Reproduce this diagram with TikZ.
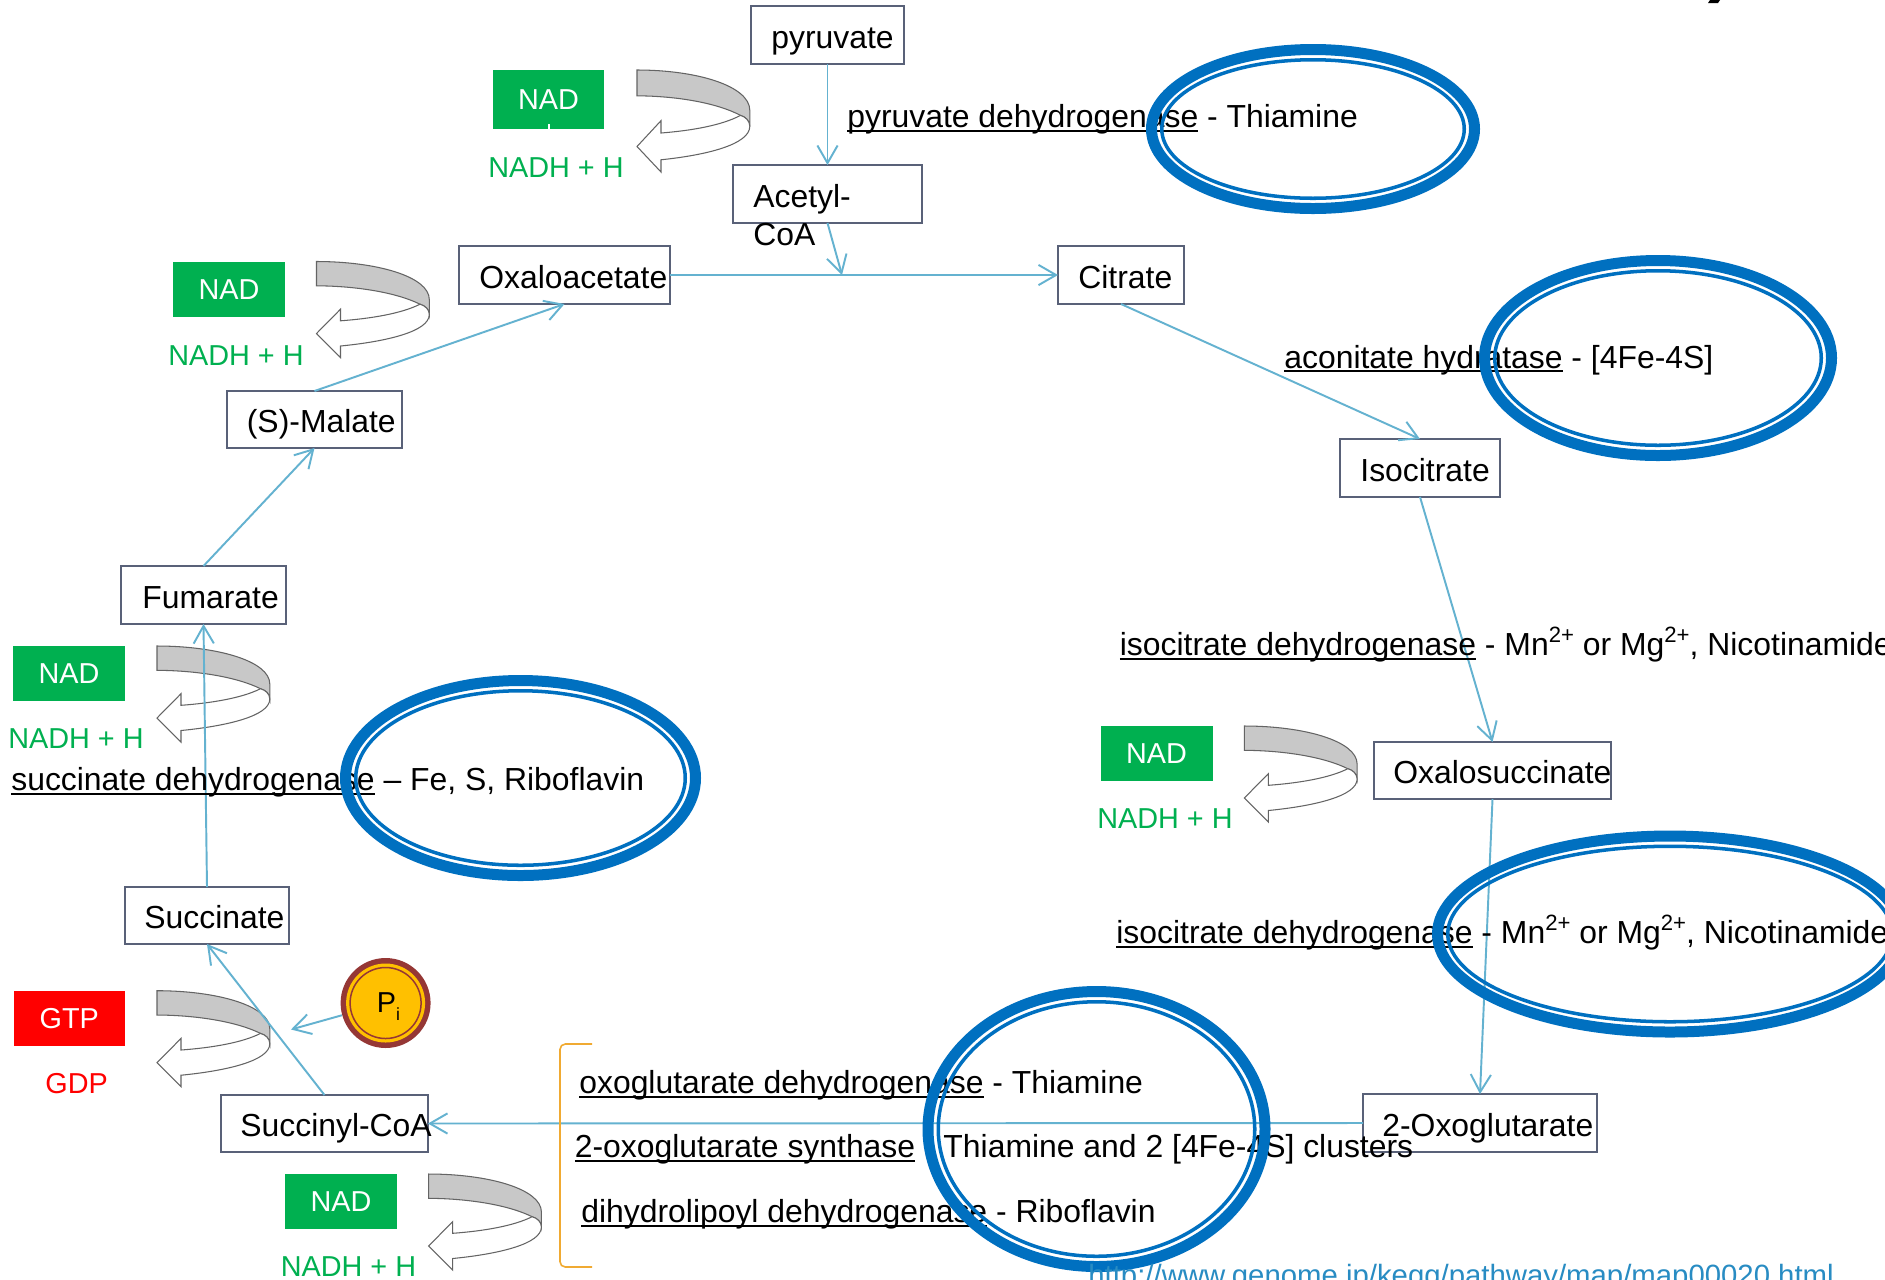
\documentclass[tikz,border=0pt]{standalone}
\usepackage{fontspec}
\setmainfont{Liberation Sans}
\usetikzlibrary{arrows.meta,calc}
\definecolor{boxc}{RGB}{89,97,120}
\definecolor{connc}{RGB}{100,178,208}
\definecolor{nadg}{RGB}{0,176,80}
\definecolor{gtpr}{RGB}{255,0,0}
\definecolor{elb}{RGB}{0,112,192}
\definecolor{ribg}{RGB}{200,200,200}
\definecolor{ribe}{RGB}{100,100,100}
\definecolor{pired}{RGB}{149,55,53}
\definecolor{pigold}{RGB}{255,192,0}
\definecolor{brk}{RGB}{240,170,50}
\definecolor{urlc}{RGB}{40,140,195}
\newlength\ulwd
\newcommand\myul[1]{\settowidth\ulwd{#1}\rlap{\rule[-0.13em]{\ulwd}{0.06em}}#1}
\newcommand\mainf{\fontsize{18.15pt}{21pt}\selectfont}
\newcommand\smallf{\fontsize{16.4pt}{19pt}\selectfont}
\newcommand\urlf{\fontsize{16.7pt}{19pt}\selectfont}
\newcommand\sups[1]{\raisebox{0.4em}{\fontsize{12.6pt}{13pt}\selectfont #1}}
\newcommand\dblell[4]{%
  \draw[elb, line width=6.26pt] (#1,#2) ellipse [x radius=#3-5.5, y radius=#4-5.5];
  \draw[elb, line width=2pt] (#1,#2) ellipse [x radius=#3-15.75, y radius=#4-15.75];}
\tikzset{
  box/.style={draw=boxc, line width=1.1pt, fill=white, inner sep=0pt, outer sep=0pt},
  lbl/.style={inner sep=0pt, anchor=base west, font=\mainf},
  nlbl/.style={inner sep=0pt, anchor=base west, font=\smallf},
  conn/.style={draw=connc, line width=1.1pt, -{Straight Barb[length=10pt,width=11.5pt]}},
  nadbox/.style={fill=nadg, text=white, inner sep=0pt, font=\smallf},
  gtpbox/.style={fill=gtpr, text=white, inner sep=0pt, font=\smallf},
  ribbon/.pic={
    \filldraw[fill=ribg, draw=ribe, line width=0.6pt]
      (0,0) .. controls (60,0) and (112.8,15) .. (112.8,38) -- (112.8,53)
      .. controls (112.8,48) and (108.5,44) .. (103.5,42.7)
      .. controls (80,31) and (40,24.5) .. (0,24.3) -- cycle;
    \filldraw[fill=white, draw=ribe, line width=0.6pt]
      (103.5,42.7) .. controls (85,52) and (55,57) .. (24,59.3) -- (24,47.7) -- (0,72)
      -- (24,96) -- (24,84.5) .. controls (70,80) and (112.8,70) .. (112.8,53)
      .. controls (112.8,48) and (108.5,44) .. (103.5,42.7) -- cycle;
  }
}
\begin{document}
\begin{tikzpicture}[x=0.02cm, y=-0.02cm]
\useasboundingbox (0,0) rectangle (1885,1279);
\clip (0,0) rectangle (1885,1279);
\fill[white] (0,0) rectangle (1885,1279);

% top-right fragment
\fill (1710,0) -- (1720,0) -- (1718,3) -- (1708,3) -- cycle;

% curved ribbons
\pic[yscale=1.0625] at (637,70) {ribbon};
\pic at (316.5,261.5) {ribbon};
\pic at (157,646) {ribbon};
\pic at (157,990.7) {ribbon};
\pic at (428.6,1174) {ribbon};
\pic at (1244.3,726) {ribbon};

% cofactor boxes
\node[nadbox, minimum width=2.22cm, minimum height=1.18cm] (nad1) at (548.5,99.5) {NAD};
\fill[white] (547.5,124) rectangle (549.5,129);
\node[nadbox, minimum width=2.24cm, minimum height=1.09cm] (nad2) at (229,289.3) {NAD};
\node[nadbox, minimum width=2.24cm, minimum height=1.1cm] (nad3) at (69,673.5) {NAD};
\node[nadbox, minimum width=2.24cm, minimum height=1.1cm] (nad4) at (341,1201.5) {NAD};
\node[nadbox, minimum width=2.24cm, minimum height=1.1cm] (nad5) at (1156.5,753.5) {NAD};
\node[gtpbox, minimum width=2.23cm, minimum height=1.1cm] (gtp) at (69.3,1018.5) {GTP};

\node[nlbl, text=nadg] (nadh1) at (488,177.5) {NADH + H};
\node[nlbl, text=nadg] (nadh2) at (168,365) {NADH + H};
\node[nlbl, text=nadg] (nadh3) at (8,748) {NADH + H};
\node[nlbl, text=nadg] (nadh4) at (280.5,1276) {NADH + H};
\node[nlbl, text=nadg] (nadh5) at (1097,828.5) {NADH + H};
\node[nlbl, text=gtpr] (gdp) at (45,1093) {GDP};

% metabolite boxes
\node[box, minimum width=3.06cm, minimum height=1.16cm] (pyr) at (827.5,35) {};
\node[box, minimum width=3.78cm, minimum height=1.16cm] (acet) at (827.5,194) {};
\node[box, minimum width=4.22cm, minimum height=1.16cm] (oxa) at (564.5,275) {};
\node[box, minimum width=2.52cm, minimum height=1.16cm] (cit) at (1121,275) {};
\node[box, minimum width=3.2cm, minimum height=1.16cm] (iso) at (1420,468) {};
\node[box, minimum width=4.74cm, minimum height=1.14cm] (oxs) at (1492.5,770.5) {};
\node[box, minimum width=4.68cm, minimum height=1.16cm] (og) at (1480,1123) {};
\node[box, minimum width=4.14cm, minimum height=1.14cm] (sca) at (324.5,1123.5) {};
\node[box, minimum width=3.28cm, minimum height=1.14cm] (suc) at (207,915.5) {};
\node[box, minimum width=3.3cm, minimum height=1.16cm] (fum) at (203.5,595) {};
\node[box, minimum width=3.5cm, minimum height=1.14cm] (mal) at (314.5,419.5) {};

% connectors
\coordinate (jn) at (842,275);
\coordinate (pitip) at (291,1029.5);
\draw[conn] (pyr.south) -- (acet.north);
\draw[conn] (acet.south) -- (jn);
\draw[conn] (oxa.east) -- (cit.west);
\draw[conn] (cit.south) -- (iso.north);
\draw[conn] (iso.south) -- (oxs.north);
\draw[conn] (oxs.south) -- (og.north);
\draw[conn] (og.west) -- (sca.east);
\draw[conn] (sca.north) -- (suc.south);
\draw[conn] (suc.north) -- (fum.south);
\draw[conn] (fum.north) -- (mal.south);
\draw[conn] (mal.north) -- (oxa.south);

% metabolite labels
\node[lbl] (pyrt) at ($(pyr.west)+(20,13)$) {pyruvate};
\node[lbl] (acett1) at ($(acet.west)+(20,13.5)$) {Acetyl-};
\node[lbl] (acett2) at ($(acet.west)+(20,51)$) {CoA};
\node[lbl] (oxat) at ($(oxa.west)+(20,13)$) {Oxaloacetate};
\node[lbl] (citt) at ($(cit.west)+(20,13)$) {Citrate};
\node[lbl] (isot) at ($(iso.west)+(20,13)$) {Isocitrate};
\node[lbl] (oxst) at ($(oxs.west)+(19,13)$) {Oxalosuccinate};
\node[lbl] (ogt) at ($(og.west)+(19,13)$) {2-Oxoglutarate};
\node[lbl] (scat) at ($(sca.west)+(19,13)$) {Succinyl-CoA};
\node[lbl] (suct) at ($(suc.west)+(19,13)$) {Succinate};
\node[lbl] (fumt) at ($(fum.west)+(21,13)$) {Fumarate};
\node[lbl] (malt) at ($(mal.west)+(19.5,13)$) {(S)-Malate};

% enzyme labels
\node[lbl] (e1) at (847,127.5) {\myul{pyruvate dehydrogenase} - Thiamine};
\node[lbl] (e2) at (1284,368) {\myul{aconitate hydratase} - [4Fe-4S]};
\node[lbl] (e3) at (1119.5,655.5) {\myul{isocitrate dehydrogenase} - Mn\sups{2+} or Mg\sups{2+}, Nicotinamide};
\node[lbl] (e4) at (1116,943.5) {\myul{isocitrate dehydrogenase} - Mn\sups{2+} or Mg\sups{2+}, Nicotinamide};
\node[lbl] (e5) at (11,790.5) {\myul{succinate dehydrogenase} – Fe, S, Riboflavin};
\node[lbl] (e6) at (579,1093.5) {\myul{oxoglutarate dehydrogenase} - Thiamine};
\node[lbl] (e7) at (574.5,1157.5) {\myul{2-oxoglutarate synthase} - Thiamine and 2 [4Fe-4S] clusters};
\node[lbl] (e8) at (581,1222.5) {\myul{dihydrolipoyl dehydrogenase} - Riboflavin};

% bracket
\draw[brk, line width=0.9pt, rounded corners=3pt] (592,1044) -- (560,1044) -- (560,1267) -- (592,1267);

% highlight ellipses
\dblell{1313}{129}{167}{85}
\dblell{1658}{358}{179}{103}
\dblell{520.5}{778}{180.5}{103}
\dblell{1096.5}{1129}{174}{143}
\dblell{1670}{934}{238}{103.5}

% Pi
\node[circle, fill=pired, minimum size=1.8cm, inner sep=0pt] (pi) at (385.6,1003) {};
\fill[pigold] (pi.center) circle (39.5);
\draw[pired, line width=0.85pt] (pi.center) circle (35.5);
\node[nlbl] (pit) at (376.5,1012) {P\raisebox{-5pt}{\fontsize{10pt}{10pt}\selectfont i}};
\draw[conn] (pi) -- (pitip);

% source
\node[nlbl, font=\urlf, text=urlc] (url) at (1088,1285) {http://www.genome.jp/kegg/pathway/map/map00020.html};
\end{tikzpicture}
\end{document}
